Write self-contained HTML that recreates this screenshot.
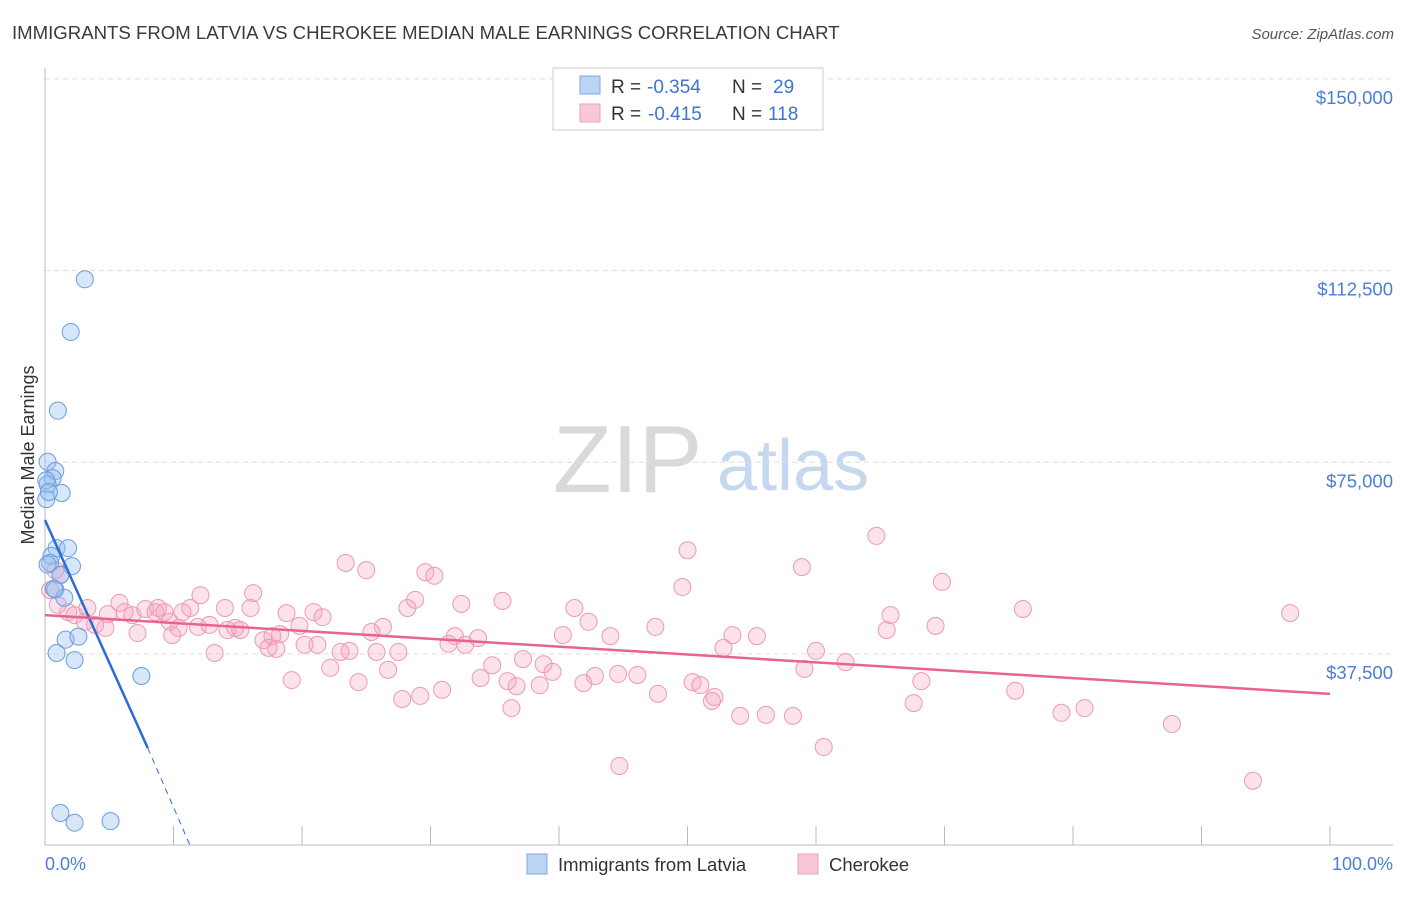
<!DOCTYPE html>
<html><head><meta charset="utf-8"><style>
body{margin:0;background:#fff;font-family:"Liberation Sans",sans-serif;}
svg text{font-family:"Liberation Sans",sans-serif;}
</style></head><body>
<svg id="chart" width="1406" height="892">
<text x="12" y="39" font-size="18.6" fill="#3a3a3a">IMMIGRANTS FROM LATVIA VS CHEROKEE MEDIAN MALE EARNINGS CORRELATION CHART</text>
<text x="1394" y="39" font-size="15" fill="#555" font-style="italic" text-anchor="end">Source: ZipAtlas.com</text>
<g>
<text x="553" y="492" font-size="96" fill="#d9d9d9" font-family="Liberation Serif">ZIP</text>
<text x="717" y="490" font-size="72" fill="#c5d8ef">atlas</text>
</g>
<g id="grid"></g>
<g id="axes"></g>
<g id="pink"></g>
<g id="blue"></g>
<g id="trend"></g>
<text x="0" y="0" font-size="18" fill="#333" text-anchor="middle" transform="translate(34 455) rotate(-90)">Median Male Earnings</text>
<text x="45" y="870" font-size="18" fill="#4a7fd4">0.0%</text>
<text x="1393" y="870" font-size="18" fill="#4a7fd4" text-anchor="end">100.0%</text>
<g>
<rect x="553" y="68" width="270" height="62" fill="#fff" stroke="#ccc"/>
<rect x="580" y="76" width="20" height="18" fill="#bcd4f4" stroke="#7fa8e0"/>
<rect x="580" y="104" width="20" height="18" fill="#f9c8d7" stroke="#eaa0b8"/>
<text x="611" y="93" font-size="19" fill="#333">R =</text>
<text x="647" y="93" font-size="19" fill="#3f74d0">-0.354</text>
<text x="732" y="93" font-size="19" fill="#333">N =</text>
<text x="773" y="93" font-size="19" fill="#3f74d0">29</text>
<text x="611" y="120" font-size="19" fill="#333">R =</text>
<text x="648" y="120" font-size="19" fill="#3f74d0">-0.415</text>
<text x="732" y="120" font-size="19" fill="#333">N =</text>
<text x="768" y="120" font-size="19" fill="#3f74d0">118</text>
</g>
<g>
<rect x="527" y="854" width="20" height="20" fill="#bcd4f4" stroke="#7fa8e0"/>
<text x="558" y="871" font-size="18.5" fill="#333">Immigrants from Latvia</text>
<rect x="798" y="854" width="20" height="20" fill="#f9c8d7" stroke="#eaa0b8"/>
<text x="829" y="871" font-size="18.5" fill="#333">Cherokee</text>
</g>
</svg>
<script>
const yTicks=[37500,75000,112500,150000];
const yTickLabels=["$37,500","$75,000","$112,500","$150,000"];
const xTicks=[10,20,30,40,50,60,70,80,90,100];
const latviaX=[3.1,2.0,1.0,0.2,0.8,0.6,0.2,1.3,0.1,0.1,0.9,1.8,0.5,2.1,0.4,1.2,0.8,1.5,1.6,2.6,0.9,2.3,7.5,1.2,2.3,5.1,0.2,0.3,0.7];
const latviaY=[110.8,100.5,85.1,75.1,73.3,71.9,70.7,69.0,67.8,71.5,58.2,58.2,56.7,54.7,55.3,53.0,50.1,48.5,40.3,40.9,37.7,36.3,33.2,6.4,4.5,4.8,55.0,69.2,50.3];
const cherX=[0.4,0.8,1.2,1.0,1.8,2.3,3.3,3.9,4.7,3.1,4.9,5.8,6.2,6.8,7.2,7.8,8.6,8.8,9.3,9.7,9.9,10.4,10.7,11.3,12.1,11.9,12.8,13.2,14.0,14.2,14.8,15.2,16.0,16.2,17.0,17.4,17.7,18.0,18.3,19.2,18.8,19.8,20.2,20.9,21.2,21.6,22.2,23.0,23.4,23.7,24.4,25.0,25.4,25.8,26.3,26.7,27.5,27.8,28.2,28.8,29.2,29.6,30.3,30.9,31.4,31.9,32.4,32.7,33.7,33.9,34.8,35.6,36.0,36.3,36.7,37.2,38.5,38.8,39.5,40.3,41.2,41.9,42.3,42.8,44.0,44.7,44.6,46.1,47.5,47.7,49.6,50.0,50.4,51.0,51.9,52.1,52.8,53.5,54.1,55.4,56.1,58.2,58.9,59.1,60.0,60.6,62.3,64.7,65.5,65.8,67.6,68.2,69.3,69.8,75.5,76.1,79.1,80.9,87.7,94.0,96.9];
const cherY=[50.0,53.9,52.9,47.1,45.7,45.1,46.5,43.2,42.6,43.8,45.3,47.5,45.7,45.1,41.6,46.3,45.7,46.5,45.7,43.8,41.2,42.6,45.7,46.5,49.0,42.8,43.2,37.7,46.5,42.2,42.6,42.2,46.5,49.4,40.2,38.7,41.0,38.5,41.4,32.4,45.5,43.0,39.3,45.7,39.3,44.7,34.8,37.9,55.3,38.1,32.0,53.9,41.8,37.9,42.8,34.4,37.9,28.7,46.5,48.1,29.3,53.5,52.8,30.5,39.5,41.0,47.3,39.3,40.6,32.8,35.3,47.9,32.2,26.9,31.2,36.5,31.4,35.5,34.0,41.2,46.5,31.8,43.8,33.2,41.0,15.6,33.6,33.4,42.8,29.7,50.6,57.8,32.0,31.4,28.3,29.1,38.7,41.2,25.4,41.0,25.6,25.4,54.5,34.6,38.1,19.3,35.9,60.6,42.2,45.1,27.9,32.2,43.0,51.6,30.3,46.3,26.0,26.9,23.8,12.7,45.5];
const latviaTrendX=[0,8.0,11.3];
const latviaTrendY=[63.7,19.1,0];
const cherTrendX=[0,100];
const cherTrendY=[45.1,29.7];
const NS="http://www.w3.org/2000/svg";
const xs=v=>45+v*12.85;
const ys=v=>845.7-v/37.5*191.7;
function mk(tag,attrs,parent){const e=document.createElementNS(NS,tag);for(const k in attrs)e.setAttribute(k,attrs[k]);parent.appendChild(e);return e;}
const grid=document.getElementById('grid'),axes=document.getElementById('axes');
yTicks.forEach((t,i)=>{const y=ys(t/1000);
 const l=mk('line',{x1:45,x2:1393,y1:y,y2:y,stroke:'#ddd','stroke-dasharray':'5,4'},grid);
 
 
 const tx=mk('text',{x:1393,y:y+25,'font-size':18.5,fill:'#4a7fd4','text-anchor':'end'},axes);
 tx.textContent=yTickLabels[i];
 
 
});
const al=mk('line',{x1:45,x2:45,y1:68,y2:845,stroke:'#bbb'},axes);


const bl=mk('line',{x1:45,x2:1393,y1:845,y2:845,stroke:'#bbb'},axes);


xTicks.forEach(t=>{const tk=mk('line',{x1:xs(t),x2:xs(t),y1:826,y2:845,stroke:'#bbb'},axes);
 
 });
const pink=document.getElementById('pink'),blue=document.getElementById('blue');
cherX.forEach((x,i)=>{const c=mk('circle',{cx:xs(x),cy:ys(cherY[i]),r:8.5,fill:'rgba(244,160,188,0.3)',stroke:'#ec9ab5','stroke-width':1},pink);
 
 });
latviaX.forEach((x,i)=>{const c=mk('circle',{cx:xs(x),cy:ys(latviaY[i]),r:8.5,fill:'rgba(150,190,240,0.38)',stroke:'#6a9de0','stroke-width':1},blue);
 
 });
const tr=document.getElementById('trend');
const t1=mk('line',{x1:xs(latviaTrendX[0]),y1:ys(latviaTrendY[0]),x2:xs(latviaTrendX[1]),y2:ys(latviaTrendY[1]),stroke:'#2a6dd6','stroke-width':2.5},tr);


const t2=mk('line',{x1:xs(latviaTrendX[1]),y1:ys(latviaTrendY[1]),x2:xs(latviaTrendX[2]),y2:ys(latviaTrendY[2]),stroke:'#2a6dd6','stroke-width':1,'stroke-dasharray':'6,5'},tr);


const t3=mk('line',{x1:xs(cherTrendX[0]),y1:ys(cherTrendY[0]),x2:xs(cherTrendX[1]),y2:ys(cherTrendY[1]),stroke:'#e8638f','stroke-width':2.5},tr);


</script>
</body></html>
